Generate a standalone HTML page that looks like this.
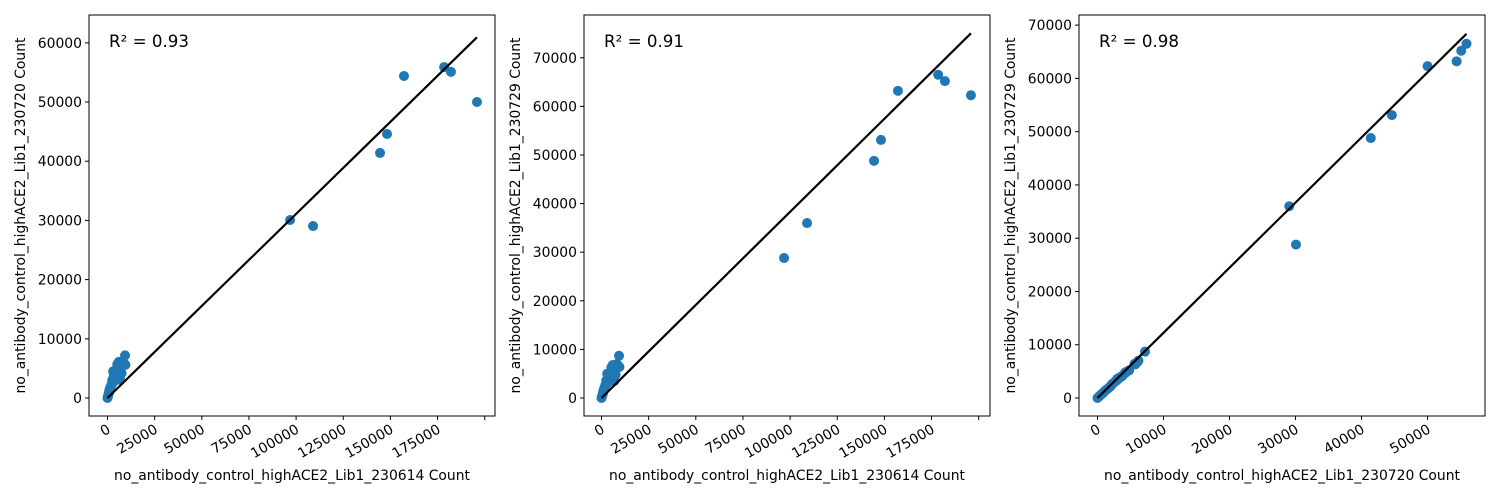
<!DOCTYPE html>
<html><head><meta charset="utf-8">
<style>
html,body{margin:0;padding:0;background:#fff;}
svg{display:block;}
text{font-family:"DejaVu Sans","Liberation Sans",sans-serif;fill:#000;}
</style></head>
<body>
<svg id="chart" width="1500" height="500" viewBox="0 0 1500 500" xmlns="http://www.w3.org/2000/svg"></svg>
<script>
// Sample counts (shared across panels)
const lib230614 = [96800,109000,144500,148200,157200,178500,182100,195900,
  9300,8200,6000,5200,3000,4500,7000,2500,1500,800,300,0,2000,3500,5500,6500,1200,600,4000,2800,1800,900,400,7500,8800,3200,2200,1000,9500,6800];
const lib230720 = [30070,29050,41400,44600,54400,55900,55100,50000,
  7200,6200,6100,5700,4500,4800,4300,3000,1800,900,300,0,2200,2800,3800,4100,1500,700,3400,2600,2000,1100,500,4200,5800,3600,2300,1300,5600,3100];
const lib230729 = [28800,36000,48800,53100,63200,66500,65200,62300,
  8700,7000,6800,6300,5000,5200,4800,3600,2000,1000,350,0,2600,3200,4200,4600,1700,800,3900,3000,2200,1300,600,4800,6500,4000,2700,1500,6400,3500];
const fitSlopes = [0.311, 0.383, 1.223];
const r2Labels = ["R² = 0.93","R² = 0.91","R² = 0.98"];
const xTicks1 = [0,25000,50000,75000,100000,125000,150000,175000,200000];
const yTicks1 = [0,10000,20000,30000,40000,50000,60000];
const yTicks2 = [0,10000,20000,30000,40000,50000,60000,70000];
const xTicks3 = [0,10000,20000,30000,40000,50000];
const yTicks3 = [0,10000,20000,30000,40000,50000,60000,70000];

const NS="http://www.w3.org/2000/svg";
const svg=document.getElementById('chart');
function mk(tag,attrs,parent){const e=document.createElementNS(NS,tag);for(const k in attrs)e.setAttribute(k,attrs[k]);(parent||svg).appendChild(e);return e;}

const panels=[
 {x:lib230614,y:lib230720,left:89,xd:[-9800,205460],yd:[-3040,64700],xt:xTicks1,yt:yTicks1,xl:"no_antibody_control_highACE2_Lib1_230614 Count",yl:"no_antibody_control_highACE2_Lib1_230720 Count",r2:r2Labels[0],slope:fitSlopes[0],lastBlank:true},
 {x:lib230614,y:lib230729,left:584,xd:[-9280,206000],yd:[-3700,78800],xt:xTicks1,yt:yTicks2,xl:"no_antibody_control_highACE2_Lib1_230614 Count",yl:"no_antibody_control_highACE2_Lib1_230729 Count",r2:r2Labels[1],slope:fitSlopes[1],lastBlank:true},
 {x:lib230720,y:lib230729,left:1079,xd:[-2800,58700],yd:[-3380,71900],xt:xTicks3,yt:yTicks3,xl:"no_antibody_control_highACE2_Lib1_230720 Count",yl:"no_antibody_control_highACE2_Lib1_230729 Count",r2:r2Labels[2],slope:fitSlopes[2],lastBlank:false}
];
const plotTop=15,plotBottom=416,W=406,FS=13.9;

panels.forEach((p,pi)=>{
  const g=mk('g',{});
  
  
  const sx=v=>p.left+(v-p.xd[0])/(p.xd[1]-p.xd[0])*W;
  const sy=v=>plotBottom-(v-p.yd[0])/(p.yd[1]-p.yd[0])*(plotBottom-plotTop);
  const pts=mk('g',{},g);
  
  
  for(let i=0;i<p.x.length;i++){
    const c=mk('circle',{cx:sx(p.x[i]),cy:sy(p.y[i]),r:5,fill:'#1f77b4'},pts);
    
    
  }
  const b=p.slope;const x0=Math.min(...p.x),x1=Math.max(...p.x);
  const ln=mk('line',{x1:sx(x0),y1:sy(b*x0),x2:sx(x1),y2:sy(b*x1),stroke:'#000','stroke-width':2.2},g);
  
  
  const fr=mk('rect',{x:p.left,y:plotTop,width:W,height:plotBottom-plotTop,fill:'none',stroke:'#000','stroke-width':1},g);
  
  
  p.xt.forEach((t,ti)=>{
    const X=sx(t);
    mk('line',{x1:X,y1:plotBottom,x2:X,y2:plotBottom+4,stroke:'#000','stroke-width':1},g);
    if(p.lastBlank && ti===p.xt.length-1) return;
    const tx=mk('text',{x:X+4,y:plotBottom+16,'font-size':FS,'text-anchor':'end',transform:`rotate(-30 ${X+4} ${plotBottom+16})`},g);
    
    
    tx.textContent=t;
  });
  p.yt.forEach(t=>{
    const Y=sy(t);
    mk('line',{x1:p.left-4,y1:Y,x2:p.left,y2:Y,stroke:'#000','stroke-width':1},g);
    const tx=mk('text',{x:p.left-7,y:Y+5,'font-size':FS,'text-anchor':'end'},g);
    
    
    tx.textContent=t;
  });
  const xl=mk('text',{x:p.left+W/2,y:480,'font-size':FS,'text-anchor':'middle'},g);
  
  
  xl.textContent=p.xl;
  const ylx=p.left-64,yly=(plotTop+plotBottom)/2;
  const yl=mk('text',{x:ylx,y:yly,'font-size':FS,'text-anchor':'middle',transform:`rotate(-90 ${ylx} ${yly})`},g);
  
  
  yl.textContent=p.yl;
  const r=mk('text',{x:p.left+20,y:47,'font-size':16.7},g);
  
  
  r.textContent=p.r2;
});
</script>
</body></html>
